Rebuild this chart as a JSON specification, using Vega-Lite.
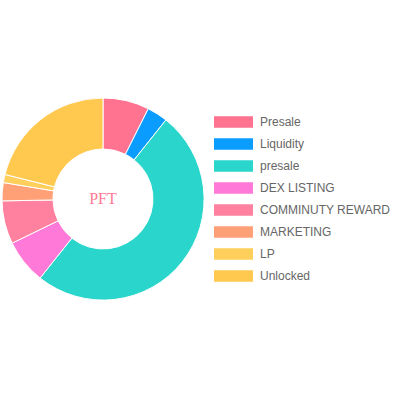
{
  "$schema": "https://vega.github.io/schema/vega-lite/v6.json",
  "width": 204,
  "height": 398,
  "padding": 0,
  "autosize": "pad",
  "background": "white",
  "config": {"view": {"stroke": null}},
  "layer": [
    {
      "data": {"values": [
        {"category": "Presale", "value": 7.4, "idx": 1},
        {"category": "Liquidity", "value": 3.3, "idx": 2},
        {"category": "presale", "value": 50, "idx": 3},
        {"category": "DEX LISTING", "value": 7.1, "idx": 4},
        {"category": "COMMINUTY REWARD", "value": 6.9, "idx": 5},
        {"category": "MARKETING", "value": 2.9, "idx": 6},
        {"category": "LP", "value": 1.3, "idx": 7},
        {"category": "Unlocked", "value": 21.1, "idx": 8}
      ]},
      "mark": {"type": "arc", "outerRadius": 101, "innerRadius": 50, "stroke": "white", "strokeWidth": 1},
      "encoding": {
        "theta": {"field": "value", "type": "quantitative", "stack": true},
        "order": {"field": "idx", "type": "quantitative"},
        "color": {
          "field": "category",
          "type": "nominal",
          "scale": {
            "domain": ["Presale", "Liquidity", "presale", "DEX LISTING", "COMMINUTY REWARD", "MARKETING", "LP", "Unlocked"],
            "range": ["#ff7290", "#0a9cff", "#2ad6cc", "#ff7ad8", "#ff819f", "#ffa077", "#ffcf5c", "#ffc94f"]
          },
          "legend": {
            "title": null,
            "orient": "none",
            "legendX": 213,
            "legendY": 116,
            "padding": 0,
            "symbolType": "M-1,-0.3H1V0.3H-1Z",
            "symbolSize": 1521,
            "symbolStrokeWidth": 0,
            "symbolOpacity": 1,
            "labelFont": "Liberation Sans",
            "labelFontSize": 12,
            "labelColor": "#666666",
            "labelOffset": 7,
            "clipHeight": 12,
            "rowPadding": 10,
            "labelLimit": 300
          }
        }
      }
    },
    {
      "data": {"values": [{"label": "PFT"}]},
      "mark": {"type": "text", "font": "Liberation Serif", "fontSize": 16, "color": "#ff7a95", "baseline": "middle", "align": "center"},
      "encoding": {"text": {"field": "label"}}
    }
  ]
}
